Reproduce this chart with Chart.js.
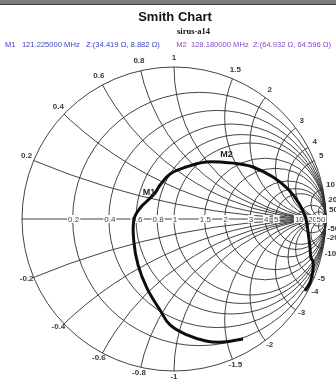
<!DOCTYPE html>
<html>
<head>
<meta charset="utf-8">
<script src="https://cdn.jsdelivr.net/npm/chart.js@4.4.1/dist/chart.umd.min.js"></script>
<style>
  html, body { margin: 0; padding: 0; background: #fff; overflow: hidden; }
  #wrap { position: relative; width: 336px; height: 379px; }
  #c { position: absolute; left: 0; top: 0; }
  #bar { position: absolute; left: 0; top: 0; width: 336px; height: 4px; background: #7d7d7d; border-bottom: 1px solid #3a3a3a; z-index: 2; }
  #title { position: absolute; left: 0; top: 9px; width: 350px; text-align: center; font: bold 13px "Liberation Sans", Arial, sans-serif; color: #111; z-index: 2; }
  #subtitle { position: absolute; left: 177px; top: 26px; font: bold 8.5px "Liberation Serif", "Times New Roman", serif; color: #111; z-index: 2; }
  .mk { position: absolute; top: 40px; font: 7.6px "Liberation Sans", Arial, sans-serif; white-space: pre; z-index: 2; }
  #m0 { left: 5px; }
  #m1 { right: 5px; }
</style>
</head>
<body>
<div id="wrap">
  <canvas id="c" width="336" height="379"></canvas>
  <div id="bar"></div>
  <div id="title">Smith Chart</div>
  <div id="subtitle">sirus-a14</div>
  <div id="m0" class="mk"></div>
  <div id="m1" class="mk"></div>
</div>
<script>
// Reference impedance (ohms)
const z0 = 50;

// Grid values: constant-resistance circles and constant-reactance arcs (normalised)
const resistanceTicks = [0.2, 0.4, 0.6, 0.8, 1, 1.5, 2, 3, 4, 5, 10, 20, 50];
const reactanceTicks = [0.2, 0.4, 0.6, 0.8, 1, 1.5, 2, 3, 4, 5, 10, 20, 50];

// Measured impedance sweep (ohms), in sweep order
const traceR = [9.3, 10.8, 12.3, 14.5, 16.7, 20.4, 23.9, 26.3, 28.0, 29.2, 31.8, 34.419, 36.9, 37.9, 40.0, 45.4,
                53.4, 64.932, 75.5, 88.1, 126.2, 204.6, 402, 710, 506, 184, 80.6, 52.3, 21.3, 5.9, 6.8];
const traceX = [-85.7, -72.6, -63.3, -53.8, -45.3, -38.6, -28.5, -18.7, -9.3, 0, 5.3, 8.882, 13.2, 18.0, 26.0, 35.4,
                49.1, 64.596, 80.2, 98.4, 139.6, 199.6, 244, 0, -401, -409, -339, -330, -280, -223, -194.6];

// Markers
const markerNames = ['M1', 'M2'];
const markerFreqMHz = [121.225, 128.18];
const markerR = [34.419, 64.932];
const markerX = [8.882, 64.596];
const markerColors = ['#3c3cc8', '#8a46c6'];
const markerGap = ['   ', '  '];

// Impedance (ohms) -> reflection coefficient
function gamma(R, X) {
  const r = R / z0, x = X / z0;
  const d = (r + 1) * (r + 1) + x * x;
  return { x: (r * r + x * x - 1) / d, y: 2 * x / d };
}

markerNames.forEach((n, i) => {
  const el = document.getElementById('m' + i);
  const gap = markerGap[i];
  el.textContent = n + gap + markerFreqMHz[i].toFixed(6) + ' MHz' + gap + 'Z:(' +
    markerR[i].toFixed(3) + ' \u03A9, ' + markerX[i].toFixed(3) + ' \u03A9)';
  el.style.color = markerColors[i];
});

const tracePoints = traceR.map((R, i) => gamma(R, traceX[i]));

const smithGrid = {
  id: 'smithGrid',
  beforeDatasetsDraw(chart) {
    const ctx = chart.ctx;
    const xs = chart.scales.x, ys = chart.scales.y;
    const px = v => xs.getPixelForValue(v);
    const py = v => ys.getPixelForValue(v);
    const cx = px(0), cy = py(0), R = px(1) - cx;
    ctx.save();
    ctx.strokeStyle = '#2e2e2e';
    ctx.lineWidth = 0.9;

    // outer boundary
    ctx.beginPath(); ctx.arc(cx, cy, R, 0, Math.PI * 2); ctx.stroke();
    // real axis
    ctx.beginPath(); ctx.moveTo(px(-1), cy); ctx.lineTo(px(1), cy); ctx.stroke();

    // constant resistance circles
    resistanceTicks.forEach(r => {
      ctx.beginPath();
      ctx.arc(px(r / (1 + r)), cy, R / (1 + r), 0, Math.PI * 2);
      ctx.stroke();
    });

    // constant reactance arcs, clipped to the unit circle
    ctx.save();
    ctx.beginPath(); ctx.arc(cx, cy, R, 0, Math.PI * 2); ctx.clip();
    reactanceTicks.forEach(x => {
      [x, -x].forEach(v => {
        ctx.beginPath();
        ctx.arc(px(1), py(1 / v), R / Math.abs(v), 0, Math.PI * 2);
        ctx.stroke();
      });
    });
    ctx.restore();

    // reactance labels round the rim
    ctx.font = 'bold 8px "Liberation Sans", Arial, sans-serif';
    ctx.fillStyle = '#3a3a3a';
    ctx.textAlign = 'center';
    ctx.textBaseline = 'middle';
    reactanceTicks.forEach(x => {
      [x, -x].forEach(v => {
        const d = 1 + v * v;
        const gx = (v * v - 1) / d, gy = 2 * v / d;
        // spread the crowded labels next to the open-circuit point
        const nudge = Math.abs(v) >= 10 ? (v > 0 ? -1 : 5) : 0;
        ctx.fillText(String(v), px(1.05 * gx), py(1.05 * gy) - 2 + nudge);
      });
    });

    // resistance labels on the real axis
    ctx.font = '8px "Liberation Sans", Arial, sans-serif';
    resistanceTicks.forEach(r => {
      const g = (r - 1) / (r + 1);
      const t = String(r);
      const w = ctx.measureText(t).width;
      const x0 = px(g) + 1;
      ctx.fillStyle = '#fff';
      ctx.fillRect(x0 - w / 2 - 1, cy - 4, w + 2, 8);
      ctx.fillStyle = '#444';
      ctx.fillText(t, x0, cy + 0.5);
    });
    ctx.restore();
  },
  afterDatasetsDraw(chart) {
    const ctx = chart.ctx;
    const xs = chart.scales.x, ys = chart.scales.y;
    ctx.save();
    ctx.font = 'bold 9px "Liberation Sans", Arial, sans-serif';
    ctx.fillStyle = '#222';
    ctx.textAlign = 'center';
    ctx.textBaseline = 'bottom';
    markerNames.forEach((n, i) => {
      const g = gamma(markerR[i], markerX[i]);
      ctx.fillText(n, xs.getPixelForValue(g.x) + 1, ys.getPixelForValue(g.y) - 3);
    });
    ctx.restore();
  }
};

new Chart(document.getElementById('c'), {
  type: 'scatter',
  data: {
    datasets: [{
      data: tracePoints,
      showLine: true,
      borderColor: '#0d0d0d',
      borderWidth: 3,
      pointRadius: 0,
      tension: 0.4,
      fill: false,
      clip: false
    }]
  },
  options: {
    responsive: false,
    animation: false,
    layout: { padding: { left: 22, right: 10, top: 67, bottom: 8 } },
    plugins: { legend: { display: false }, tooltip: { enabled: false }, title: { display: false } },
    scales: {
      x: { type: 'linear', min: -1, max: 1, display: false },
      y: { type: 'linear', min: -1, max: 1, display: false }
    }
  },
  plugins: [smithGrid]
});
</script>
</body>
</html>
